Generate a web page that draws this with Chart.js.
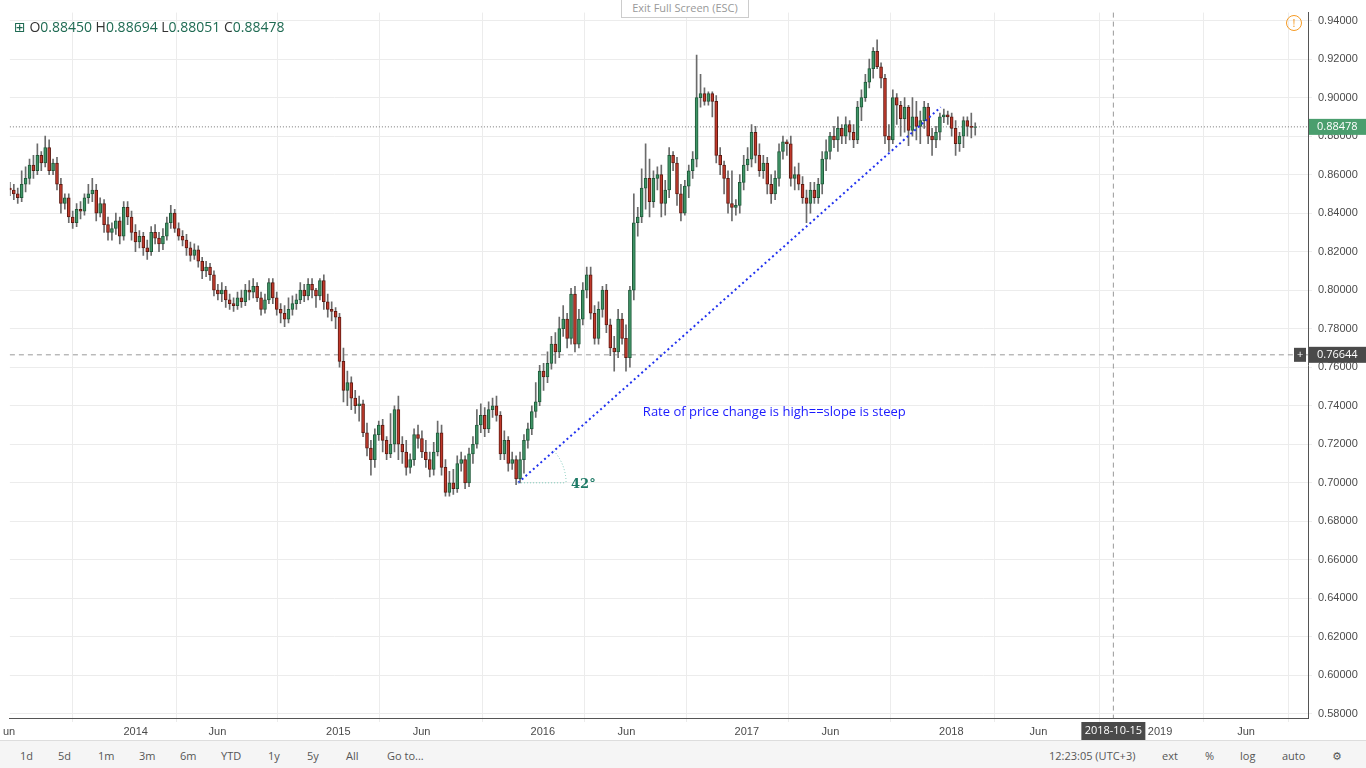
<!DOCTYPE html>
<html>
<head>
<meta charset="utf-8">
<script src="https://cdn.jsdelivr.net/npm/chart.js@4"></script>
<style>
  body { margin: 0; background: #fff; font-family: "Open Sans", "DejaVu Sans", sans-serif; }
  #wrap { position: absolute; left: 0; top: 0; width: 1366px; height: 742px; }
  #legend { position: absolute; left: 14px; top: 17px; font-size: 14px; color: #1e6a52; }
  #legend b { font-weight: normal; color: #333; }
  #exitfs { position: absolute; left: 621px; top: 0; width: 126px; height: 17px; border: 1px solid #ccc; border-top: none; font-size: 11px; color: #999; text-align: center; line-height: 16px; background: #fff; }
  #warn { position: absolute; left: 1286px; top: 15px; width: 14px; height: 14px; border: 1.5px solid #f59a23; border-radius: 50%; color: #f59a23; font-size: 11px; text-align: center; line-height: 14px; }
  #toolbar { position: absolute; left: 0; top: 740px; width: 1366px; height: 28px; background: #f5f5f5; border-top: 1px solid #ddd; font-size: 11px; color: #555; }
  #toolbar span { position: absolute; top: 7px; }
</style>
</head>
<body>
<div id="wrap"><canvas id="chart"></canvas></div>
<div id="legend">⊞ <b>O</b>0.88450 <b>H</b>0.88694 <b>L</b>0.88051 <b>C</b>0.88478</div>
<div id="exitfs">Exit Full Screen (ESC)</div>
<div id="warn">!</div>
<div id="toolbar">
  <span style="left:20px">1d</span><span style="left:58px">5d</span><span style="left:98px">1m</span>
  <span style="left:139px">3m</span><span style="left:180px">6m</span><span style="left:221px">YTD</span>
  <span style="left:268px">1y</span><span style="left:307px">5y</span><span style="left:346px">All</span>
  <span style="left:387px">Go to...</span>
  <span style="left:1049px">12:23:05 (UTC+3)</span><span style="left:1162px">ext</span>
  <span style="left:1205px">%</span><span style="left:1240px">log</span><span style="left:1282px">auto</span>
  <span style="left:1332px">⚙</span>
</div>
<script>
// weekly candles, week 0 ~ late May 2013
const closes = [
  0.852,0.850,0.848,0.855,0.858,0.865,0.862,0.870,0.866,0.874,
  0.862,0.866,0.855,0.845,0.848,0.838,0.835,0.842,0.841,0.848,
  0.850,0.852,0.840,0.845,0.834,0.830,0.832,0.836,0.828,0.843,
  0.838,0.830,0.825,0.828,0.822,0.820,0.830,0.827,0.824,0.828,
  0.835,0.840,0.832,0.828,0.826,0.822,0.818,0.821,0.815,0.810,
  0.812,0.808,0.800,0.798,0.800,0.795,0.793,0.792,0.796,0.794,
  0.800,0.799,0.802,0.796,0.790,0.795,0.804,0.796,0.790,0.788,
  0.785,0.790,0.793,0.795,0.800,0.797,0.803,0.800,0.797,0.805,
  0.794,0.790,0.789,0.786,0.763,0.748,0.752,0.744,0.740,0.741,
  0.726,0.718,0.712,0.725,0.730,0.722,0.715,0.720,0.738,0.720,
  0.716,0.708,0.712,0.725,0.723,0.716,0.712,0.707,0.716,0.726,
  0.708,0.695,0.700,0.697,0.710,0.712,0.700,0.715,0.720,0.730,
  0.735,0.728,0.738,0.740,0.735,0.715,0.722,0.710,0.712,0.702,
  0.712,0.722,0.728,0.737,0.742,0.758,0.755,0.762,0.772,0.768,
  0.780,0.785,0.775,0.798,0.772,0.785,0.800,0.808,0.788,0.775,
  0.790,0.800,0.782,0.770,0.768,0.785,0.775,0.765,0.800,0.835,
  0.838,0.853,0.858,0.846,0.858,0.860,0.845,0.852,0.870,0.866,
  0.850,0.840,0.854,0.862,0.868,0.900,0.902,0.898,0.902,0.898,
  0.870,0.865,0.858,0.845,0.843,0.844,0.856,0.865,0.868,0.882,
  0.870,0.862,0.866,0.855,0.850,0.858,0.872,0.877,0.876,0.858,
  0.860,0.855,0.848,0.845,0.852,0.848,0.855,0.868,0.872,0.880,
  0.878,0.884,0.880,0.886,0.882,0.878,0.895,0.900,0.908,0.915,
  0.924,0.916,0.910,0.880,0.878,0.900,0.896,0.889,0.895,0.883,
  0.890,0.885,0.888,0.895,0.880,0.878,0.882,0.890,0.891,0.890,
  0.884,0.876,0.880,0.888,0.885,0.8845,0.88478
];
const highs = [
  0.856,0.855,0.853,0.862,0.864,0.868,0.870,0.876,0.872,0.880,
  0.878,0.868,0.869,0.858,0.850,0.850,0.841,0.845,0.846,0.850,
  0.855,0.858,0.855,0.848,0.847,0.838,0.835,0.840,0.838,0.846,
  0.846,0.841,0.834,0.831,0.830,0.826,0.833,0.834,0.830,0.832,
  0.838,0.844,0.842,0.835,0.831,0.829,0.825,0.824,0.823,0.817,
  0.815,0.814,0.810,0.803,0.804,0.802,0.798,0.796,0.799,0.800,
  0.803,0.805,0.806,0.804,0.799,0.798,0.806,0.806,0.799,0.793,
  0.792,0.796,0.797,0.798,0.804,0.803,0.806,0.806,0.801,0.806,
  0.808,0.798,0.794,0.791,0.788,0.770,0.758,0.755,0.748,0.745,
  0.743,0.731,0.722,0.728,0.732,0.733,0.724,0.736,0.740,0.745,
  0.724,0.722,0.715,0.728,0.730,0.727,0.722,0.716,0.721,0.732,
  0.730,0.712,0.706,0.707,0.714,0.716,0.714,0.718,0.724,0.738,
  0.741,0.739,0.742,0.744,0.745,0.737,0.727,0.724,0.716,0.714,
  0.716,0.725,0.731,0.740,0.752,0.761,0.762,0.768,0.776,0.778,
  0.786,0.792,0.788,0.801,0.802,0.790,0.804,0.812,0.812,0.792,
  0.794,0.802,0.803,0.785,0.776,0.790,0.788,0.782,0.802,0.850,
  0.843,0.863,0.876,0.868,0.862,0.864,0.865,0.857,0.874,0.872,
  0.869,0.855,0.857,0.865,0.872,0.922,0.912,0.905,0.903,0.903,
  0.901,0.874,0.867,0.862,0.862,0.847,0.860,0.870,0.874,0.886,
  0.885,0.876,0.870,0.869,0.860,0.862,0.876,0.880,0.878,0.880,
  0.864,0.866,0.859,0.852,0.856,0.856,0.858,0.872,0.878,0.882,
  0.885,0.890,0.886,0.890,0.888,0.886,0.898,0.904,0.912,0.920,
  0.926,0.930,0.918,0.912,0.886,0.904,0.902,0.898,0.900,0.896,
  0.900,0.898,0.893,0.898,0.897,0.884,0.885,0.892,0.894,0.893,
  0.892,0.888,0.882,0.890,0.890,0.892,0.88694
];
const lows = [
  0.849,0.847,0.845,0.846,0.851,0.855,0.858,0.860,0.862,0.864,
  0.860,0.860,0.852,0.840,0.842,0.835,0.832,0.833,0.837,0.839,
  0.845,0.846,0.836,0.838,0.830,0.826,0.826,0.829,0.824,0.826,
  0.834,0.826,0.820,0.822,0.818,0.816,0.818,0.824,0.820,0.821,
  0.826,0.832,0.830,0.826,0.823,0.818,0.815,0.816,0.812,0.806,
  0.807,0.805,0.797,0.795,0.794,0.791,0.790,0.789,0.790,0.791,
  0.792,0.795,0.796,0.794,0.787,0.788,0.793,0.793,0.787,0.783,
  0.781,0.783,0.787,0.790,0.793,0.794,0.795,0.796,0.791,0.795,
  0.790,0.786,0.784,0.780,0.760,0.742,0.740,0.738,0.736,0.732,
  0.724,0.714,0.704,0.708,0.722,0.716,0.712,0.713,0.716,0.712,
  0.710,0.704,0.705,0.709,0.718,0.713,0.708,0.703,0.704,0.714,
  0.704,0.693,0.693,0.694,0.695,0.706,0.697,0.698,0.710,0.718,
  0.726,0.724,0.726,0.734,0.732,0.712,0.712,0.706,0.707,0.699,
  0.700,0.705,0.718,0.725,0.734,0.740,0.748,0.752,0.759,0.762,
  0.765,0.776,0.770,0.772,0.768,0.770,0.782,0.796,0.785,0.772,
  0.772,0.786,0.778,0.766,0.758,0.765,0.772,0.758,0.760,0.795,
  0.828,0.835,0.842,0.838,0.843,0.852,0.838,0.839,0.848,0.862,
  0.844,0.836,0.839,0.848,0.858,0.864,0.895,0.896,0.896,0.890,
  0.866,0.860,0.850,0.840,0.836,0.839,0.840,0.852,0.862,0.864,
  0.866,0.859,0.858,0.850,0.845,0.847,0.854,0.868,0.870,0.854,
  0.852,0.852,0.845,0.835,0.840,0.845,0.845,0.850,0.862,0.868,
  0.874,0.872,0.876,0.876,0.878,0.874,0.876,0.888,0.898,0.905,
  0.910,0.915,0.905,0.876,0.872,0.876,0.886,0.880,0.882,0.875,
  0.880,0.878,0.876,0.884,0.876,0.870,0.874,0.878,0.887,0.886,
  0.880,0.870,0.872,0.874,0.880,0.879,0.88051
];
const firstOpen = 0.853;
const opens = closes.map((c, i) => i === 0 ? firstOpen : closes[i - 1]);

const tickWeeks = [-0.2, 32.06, 52.9, 83.7, 104.9, 135.8, 157.1, 187.8, 209.1, 239.9, 262.1, 293.1, 315.0];
const tickLabels = ['un', '2014', 'Jun', '2015', 'Jun', '2016', 'Jun', '2017', 'Jun', '2018', 'Jun', '2019', 'Jun'];
const yTicks = [0.58,0.60,0.62,0.64,0.66,0.68,0.70,0.72,0.74,0.76,0.78,0.80,0.82,0.84,0.86,0.88,0.90,0.92,0.94];
const trendWeeks = [129.5, 237.2];
const trendPrices = [0.700, 0.895];
const lastPrice = 0.88478;
const crossPrice = 0.76644;
const crossWeek = 281.2;

const UP = '#3f9466', DOWN = '#c0392b';
const colors = closes.map((c, i) => c >= opens[i] ? UP : DOWN);
const borders = closes.map((c, i) => c >= opens[i] ? '#1f5a3a' : '#5e1a12');

const extras = {
  id: 'extras',
  beforeDatasetsDraw(chart) {
    const { ctx, scales: { x, y }, chartArea: a } = chart;
    ctx.save();
    ctx.strokeStyle = '#777'; ctx.lineWidth = 1; ctx.setLineDash([1, 2]);
    const ly = y.getPixelForValue(lastPrice);
    ctx.beginPath(); ctx.moveTo(a.left, ly); ctx.lineTo(a.right, ly); ctx.stroke();
    ctx.strokeStyle = '#999'; ctx.setLineDash([5, 4]);
    const cy = y.getPixelForValue(crossPrice), cx = x.getPixelForValue(crossWeek);
    ctx.beginPath(); ctx.moveTo(a.left, cy); ctx.lineTo(a.right, cy); ctx.stroke();
    ctx.beginPath(); ctx.moveTo(cx, a.top); ctx.lineTo(cx, a.bottom); ctx.stroke();
    ctx.restore();
  },
  afterDraw(chart) {
    const { ctx, scales: { x, y }, chartArea: a } = chart;
    ctx.save();
    ctx.font = '11px "Open Sans", sans-serif';
    ctx.textBaseline = 'middle';
    const ly = y.getPixelForValue(lastPrice);
    ctx.fillStyle = '#4a9e6e'; ctx.fillRect(a.right + 1, ly - 8, 57, 16);
    ctx.fillStyle = '#fff'; ctx.fillText('0.88478', a.right + 9, ly);
    const cy = y.getPixelForValue(crossPrice);
    ctx.fillStyle = '#4a4a4a'; ctx.fillRect(a.right + 1, cy - 8, 57, 16);
    ctx.fillStyle = '#fff'; ctx.fillText('0.76644', a.right + 9, cy);
    ctx.fillStyle = '#4a4a4a'; ctx.fillRect(a.right - 14, cy - 7, 12, 14);
    ctx.fillStyle = '#fff'; ctx.fillText('+', a.right - 11, cy);
    const cx = x.getPixelForValue(crossWeek);
    ctx.fillStyle = '#4a4a4a'; ctx.fillRect(cx - 32, a.bottom + 4, 64, 18);
    ctx.fillStyle = '#fff'; ctx.textAlign = 'center'; ctx.fillText('2018-10-15', cx, a.bottom + 13);
    const x0 = x.getPixelForValue(trendWeeks[0]), y0 = y.getPixelForValue(trendPrices[0]);
    ctx.strokeStyle = '#7cc8b8'; ctx.setLineDash([1, 2]); ctx.lineWidth = 1;
    ctx.beginPath(); ctx.moveTo(x0, y0); ctx.lineTo(x0 + 48, y0); ctx.stroke();
    const ang = Math.atan2(y.getPixelForValue(trendPrices[1]) - y0, x.getPixelForValue(trendWeeks[1]) - x0);
    ctx.beginPath(); ctx.arc(x0, y0, 48, ang, 0); ctx.stroke();
    ctx.setLineDash([]);
    ctx.fillStyle = '#1e7a66'; ctx.font = 'bold 13px "DejaVu Serif", serif'; ctx.textAlign = 'left';
    ctx.fillText('42°', x0 + 53, y0 + 2);
    ctx.fillStyle = '#1a1aff'; ctx.font = '13px "Open Sans", sans-serif';
    ctx.fillText('Rate of price change is high==slope is steep', x.getPixelForValue(161.3), y.getPixelForValue(0.7368));
    ctx.restore();
  }
};

new Chart(document.getElementById('chart'), {
  type: 'bar',
  data: {
    datasets: [{
      data: closes.map((c, i) => ({ x: i, y: [lows[i], highs[i]] })),
      backgroundColor: '#6b6b6b', barThickness: 1, grouped: false, order: 2
    }, {
      data: closes.map((c, i) => ({ x: i, y: [opens[i], c === opens[i] ? c + 0.0005 : c] })),
      backgroundColor: colors, borderColor: borders, borderWidth: 1, borderSkipped: false,
      barThickness: 3, grouped: false, order: 1
    }, {
      type: 'line',
      data: trendWeeks.map((w, i) => ({ x: w, y: trendPrices[i] })),
      borderColor: '#2233ee', borderWidth: 2, borderDash: [2, 3], pointRadius: 0, order: 0
    }]
  },
  options: {
    responsive: true, maintainAspectRatio: false, animation: false,
    layout: { padding: { left: 8, top: 8 } },
    plugins: { legend: { display: false }, tooltip: { enabled: false } },
    scales: {
      x: {
        type: 'linear', min: 0, max: 330.8, offset: false,
        afterBuildTicks: s => { s.ticks = tickWeeks.map(v => ({ value: v })); },
        afterFit: s => { s.height = 24; },
        ticks: { autoSkip: false, maxRotation: 0, color: '#4a4a4a', font: { size: 11 },
          callback: (v, i) => tickLabels[i] },
        grid: { color: '#ececec', drawTicks: true, tickLength: 4 },
        border: { color: '#555' }
      },
      y: {
        position: 'right', min: 0.5779, max: 0.9441,
        afterBuildTicks: s => { s.ticks = yTicks.map(v => ({ value: v })); },
        afterFit: s => { s.width = 58; },
        ticks: { color: '#4a4a4a', font: { size: 11 }, padding: 6, callback: v => v.toFixed(5) },
        grid: { color: '#ececec', tickLength: 4 },
        border: { color: '#555' }
      }
    }
  },
  plugins: [extras]
});
</script>
</body>
</html>
